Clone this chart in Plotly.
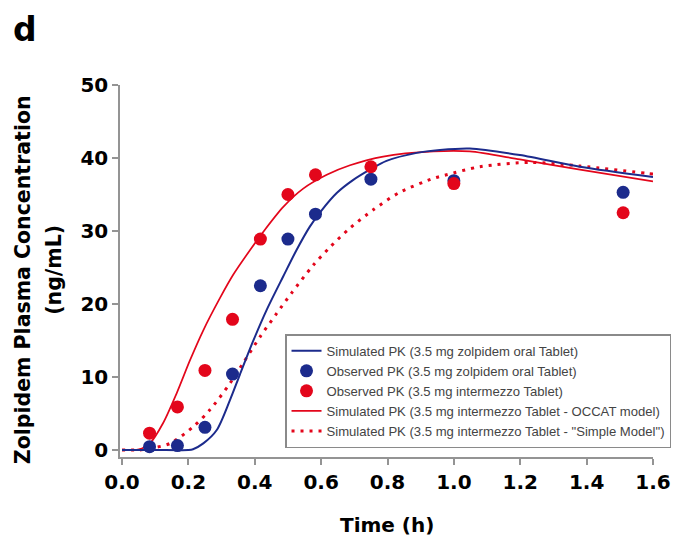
import plotly.graph_objects as go

# Observed data (time in h, concentration in ng/mL)
obs_time = [0.083, 0.167, 0.25, 0.333, 0.417, 0.5, 0.583, 0.75, 1.0, 1.51]
obs_zolpidem = [0.45, 0.6, 3.1, 10.4, 22.5, 28.9, 32.3, 37.1, 36.9, 35.3]
obs_intermezzo = [2.3, 5.9, 10.9, 17.9, 28.9, 35.0, 37.7, 38.8, 36.5, 32.5]

# Simulated zolpidem oral tablet
sim_zol_time = [0, 0.10, 0.20, 0.214, 0.245, 0.285, 0.325, 0.355, 0.395, 0.436, 0.486,
                0.526, 0.566, 0.601, 0.647, 0.697, 0.747, 0.797, 0.888, 0.958, 1.048,
                1.199, 1.38, 1.6]
sim_zol_conc = [0, 0, 0, 0.1, 0.9, 2.7, 6.8, 10.3, 14.9, 19.2, 23.8,
                27.4, 30.6, 32.8, 35.2, 37.0, 38.4, 39.6, 40.7, 41.1, 41.3,
                40.4, 38.8, 37.4]

# Simulated intermezzo tablet - OCCAT model
sim_occat_time = [0, 0.04, 0.06, 0.084, 0.124, 0.165, 0.205, 0.245, 0.295, 0.335, 0.386,
                  0.426, 0.486, 0.546, 0.617, 0.687, 0.787, 0.938, 1.048, 1.199, 1.38, 1.6]
sim_occat_conc = [0, 0, 0.2, 0.9, 3.7, 7.8, 12.3, 16.4, 20.8, 24.0, 27.4,
                  29.9, 33.3, 35.8, 37.7, 39.0, 40.2, 40.9, 40.9, 39.8, 38.4, 36.8]

# Simulated intermezzo tablet - "Simple Model"
sim_simple_time = [0, 0.05, 0.084, 0.145, 0.215, 0.265, 0.325, 0.365, 0.416, 0.466, 0.511,
                   0.576, 0.627, 0.687, 0.757, 0.837, 0.938, 0.978, 1.078, 1.229, 1.38,
                   1.58, 1.6]
sim_simple_conc = [0, 0, 0.2, 0.9, 3.2, 5.5, 9.1, 11.9, 15.5, 18.7, 21.5,
                   25.3, 27.8, 30.4, 32.9, 35.3, 37.2, 37.7, 38.8, 39.4, 38.9,
                   37.9, 37.8]

x_ticks = [0.0, 0.2, 0.4, 0.6, 0.8, 1.0, 1.2, 1.4, 1.6]
x_ticklabels = ["0.0", "0.2", "0.4", "0.6", "0.8", "1.0", "1.2", "1.4", "1.6"]
y_ticks = [0, 10, 20, 30, 40, 50]

x_title = "Time (h)"
y_title_lines = ["Zolpidem Plasma Concentration", "(ng/mL)"]
panel_label = "d"

BLUE = "#1c2b8c"
RED = "#e3061b"
AXIS_GRAY = "#949494"

fig = go.Figure()

fig.add_trace(go.Scatter(
    x=sim_simple_time, y=sim_simple_conc, mode="lines",
    line=dict(color=RED, width=3, dash="3px,6px", shape="spline", smoothing=0.8),
    name='Simulated PK (3.5 mg intermezzo Tablet - "Simple Model")', legendrank=5))
fig.add_trace(go.Scatter(
    x=sim_occat_time, y=sim_occat_conc, mode="lines",
    line=dict(color=RED, width=1.7, shape="spline", smoothing=0.8),
    name="Simulated PK (3.5 mg intermezzo Tablet - OCCAT model)", legendrank=4))
fig.add_trace(go.Scatter(
    x=sim_zol_time, y=sim_zol_conc, mode="lines",
    line=dict(color=BLUE, width=2, shape="spline", smoothing=0.8),
    name="Simulated PK (3.5 mg zolpidem oral Tablet)", legendrank=1))
fig.add_trace(go.Scatter(
    x=obs_time, y=obs_zolpidem, mode="markers",
    marker=dict(color=BLUE, size=13),
    name="Observed PK (3.5 mg zolpidem oral Tablet)", legendrank=2))
fig.add_trace(go.Scatter(
    x=obs_time, y=obs_intermezzo, mode="markers",
    marker=dict(color=RED, size=13),
    name="Observed PK (3.5 mg intermezzo Tablet)", legendrank=3))

axis_font = dict(family="DejaVu Sans", size=20, color="black", weight="bold")
ytitle_font = dict(family="DejaVu Sans", size=20.5, color="black", weight="bold")

annotations = [
    dict(text=panel_label, xref="paper", yref="paper", x=-0.2026, y=1.205,
         xanchor="left", yanchor="top", showarrow=False, borderpad=0,
         font=dict(family="DejaVu Sans", size=33, color="black", weight="bold")),
    dict(text=x_title, xref="paper", yref="paper", x=0.501, y=-0.183,
         xanchor="center", yanchor="middle", showarrow=False, font=axis_font),
    dict(text=y_title_lines[0], xref="paper", yref="paper", x=-0.182, y=0.478,
         xanchor="center", yanchor="middle", textangle=-90, showarrow=False, font=ytitle_font),
    dict(text=y_title_lines[1], xref="paper", yref="paper", x=-0.124, y=0.503,
         xanchor="center", yanchor="middle", textangle=-90, showarrow=False, font=ytitle_font),
]

fig.update_layout(
    width=671, height=535,
    margin=dict(l=112, r=26, t=77, b=86, autoexpand=False),
    plot_bgcolor="white", paper_bgcolor="white",
    showlegend=True,
    legend=dict(
        x=0.3096, y=0.33, xanchor="left", yanchor="top",
        bgcolor="white", bordercolor="#8a8a8a", borderwidth=1.5,
        font=dict(family="Liberation Sans, Arial", size=13.1, color="#444"),
        tracegroupgap=0, itemwidth=30,
    ),
    xaxis=dict(
        range=[-0.006, 1.6], tickvals=x_ticks, ticktext=x_ticklabels,
        showline=True, linecolor=AXIS_GRAY, linewidth=1.5,
        ticks="outside", ticklen=6, tickcolor=AXIS_GRAY, tickwidth=1.5,
        showgrid=False, zeroline=False, automargin=False,
        tickfont=axis_font,
    ),
    yaxis=dict(
        range=[-0.96, 50], tickvals=y_ticks,
        showline=True, linecolor=AXIS_GRAY, linewidth=1.5,
        ticks="outside", ticklen=6, tickcolor=AXIS_GRAY, tickwidth=1.5,
        showgrid=False, zeroline=False, automargin=False,
        tickfont=axis_font,
    ),
    annotations=annotations,
)

fig.write_html("out.html")
